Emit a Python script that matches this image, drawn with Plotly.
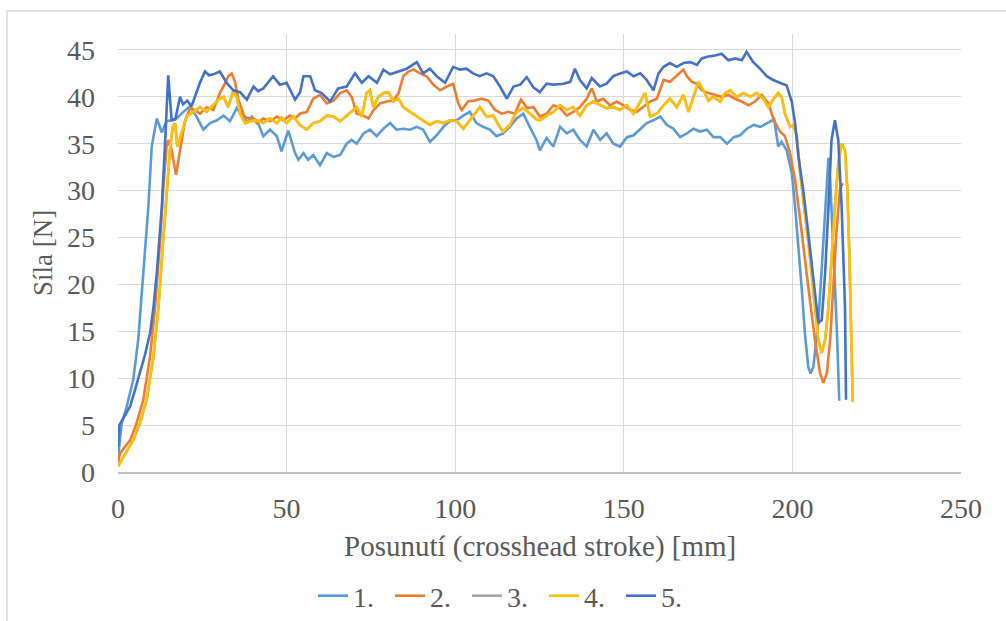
import plotly.graph_objects as go

# ---- data ----
series_names = ["1.", "2.", "3.", "4.", "5."]
series_colors = ["#5B9BD5", "#ED7D31", "#A5A5A5", "#FFC000", "#4472C4"]

s1 = [(0,1.5),(1.1,5.2),(2.6,7.0),(4.5,9.8),(6,14.1),(7.5,21.2),(9,28.3),(10,34.7),(11.5,37.7),(13,36.2),
      (14.4,37.4),(15.9,37.5),(17.4,37.7),(19.4,38.4),(21.4,39.0),(23.3,37.9),(25.3,36.5),(27.3,37.2),(29.3,37.5),
      (31.3,38.0),(33.2,37.4),(35.2,38.8),(37.2,37.9),(39.2,37.7),(41.2,37.5),(43.1,35.8),(45.1,36.5),(47.1,35.8),
      (48.5,34.2),(50.5,36.4),(52.5,34.0),(53.5,33.3),(55,34.0),(56.4,33.3),(57.9,33.8),(59.9,32.7),(61.9,34.0),
      (63.9,33.6),(65.9,33.8),(67.8,35.0),(69.3,35.4),(70.8,35.0),(72.8,36.1),(74.7,36.5),(76.7,35.8),(78.7,36.6),
      (80.7,37.2),(82.6,36.5),(84.6,36.6),(86.6,36.5),(88.6,36.8),(90.5,36.5),(92.5,35.2),(94.5,35.9),(96.5,36.8),
      (98.4,37.4),(100.4,37.5),(102.4,38.0),(104.3,38.4),(106.3,37.2),(108.3,36.8),(110.3,36.5),(112.2,35.8),
      (114.2,36.1),(116.2,36.8),(118.2,37.7),(120.2,38.2),(122.1,36.8),(124.1,35.4),(125.1,34.3),(127.1,35.6),
      (129.1,34.7),(131.1,36.8),(133.1,36.1),(135,36.5),(137,35.4),(139,34.7),(141,36.5),(143,35.4),(144.9,36.1),
      (146.9,35.0),(148.9,34.7),(150.9,35.7),(152.9,35.9),(154.9,36.6),(156.8,37.2),(158.8,37.5),(160.8,37.9),
      (162.8,37.0),(164.7,36.6),(166.7,35.7),(168.7,36.1),(170.7,36.6),(172.6,36.3),(174.6,36.5),(176.6,35.7),
      (178.6,35.7),(180.6,35.0),(182.6,35.7),(184.5,35.9),(186.5,36.6),(188.5,37.0),(190.5,36.8),(192.4,37.2),
      (194.6,37.6),(195.8,34.7),(196.8,35.2),(198.3,34.3),(199.8,31.9),(200.8,28.3),(201.8,24.0),(202.8,19.4),
      (203.7,14.8),(204.7,11.2),(205.4,10.5),(206.2,11.2),(207.7,15.9),(209.2,24.7),(210.2,30.1),(210.7,33.5),
      (211.2,31.2),(212.1,24.7),(213.1,15.9),(213.9,7.6)]

s2 = [(0,1.0),(0.6,2.0),(3.6,3.4),(5.5,5.2),(7.5,7.7),(9.5,12.3),(11,17.6),(12.5,24.7),(13.4,30.1),(14.4,34.7),
      (14.9,35.4),(15.9,34.3),(17.2,31.7),(18.4,34.3),(19.9,37.5),(21.4,38.8),(22.8,38.6),(24.3,38.2),(26.3,38.9),
      (28.3,38.6),(30.2,40.4),(31.7,41.4),(32.7,42.2),(33.7,42.5),(34.7,41.6),(35.7,39.7),(36.7,38.6),(38.2,37.2),
      (39.7,37.9),(41.2,37.2),(43.1,37.7),(45.1,37.4),(47.1,37.9),(49,37.5),(51,38.0),(52.5,37.7),(54,38.2),
      (56,38.4),(57.9,39.8),(59.9,40.2),(61.9,39.3),(63.9,39.6),(65.9,40.4),(67.8,40.7),(69.3,40.0),(70.8,38.2),
      (72.8,38.0),(74.3,37.7),(75.8,38.6),(77.7,39.3),(79.7,39.5),(81.7,39.6),(83.2,40.4),(84.6,42.2),(86.1,42.7),
      (87.6,42.9),(89.6,42.5),(91.5,42.2),(93.5,41.3),(95.5,40.7),(97.5,41.1),(99.4,41.4),(100.9,39.3),(101.9,38.6),
      (103.8,39.5),(105.8,39.6),(107.8,39.8),(109.8,39.6),(111.8,38.6),(113.8,38.2),(115.8,38.4),(117.7,38.2),
      (119.5,39.7),(121.4,38.8),(123.2,38.9),(125.1,37.9),(127.1,38.2),(129.1,39.1),(131.1,38.8),(133.1,38.0),
      (135,38.4),(137,38.9),(139,39.8),(140.5,40.9),(142,39.5),(143.9,39.8),(145.9,39.1),(147.9,39.5),(149.9,39.1),
      (151.9,38.6),(153.9,38.4),(155.8,38.9),(157.8,39.5),(159.8,39.8),(161.8,41.8),(163.7,41.6),(165.7,42.2),
      (167.7,42.9),(168.7,42.2),(170.2,41.6),(171.7,41.4),(173.1,40.7),(175.1,40.4),(177.1,40.2),(179,40.0),
      (181,40.2),(183,39.8),(185,39.5),(187,39.1),(188.9,39.5),(190.9,40.2),(192.9,39.3),(194.4,37.6),(196.3,36.3),
      (197.8,35.8),(199.3,34.0),(200.8,31.1),(202.3,26.9),(203.7,22.6),(205.2,18.3),(206.7,14.1),(208.2,10.5),
      (209.2,9.5),(210.2,10.5),(211.2,14.1),(212.1,19.4),(213.1,25.8),(214.1,30.1),(214.9,30.8)]

s4 = [(0,0.6),(0.5,0.9),(2.6,2.3),(4.5,3.4),(6.5,5.2),(8.5,7.7),(10.5,12.3),(12,17.6),(13.4,24.7),(14.4,30.1),
      (15.4,34.3),(16.2,36.8),(16.9,37.2),(17.6,34.7),(18.6,35.8),(20.4,37.9),(22.3,38.4),(24.3,38.9),(26.3,38.4),
      (28.3,39.1),(29.8,39.7),(31.3,40.0),(32.7,38.9),(34.2,40.7),(35.2,40.0),(36.2,38.2),(37.7,37.2),(39.2,37.4),
      (41.2,37.5),(43.1,37.2),(45.1,37.7),(47.1,37.2),(48.5,37.8),(50,37.2),(52,37.9),(54,37.0),(56,36.5),
      (57.9,37.2),(59.9,37.4),(61.9,38.0),(63.9,37.9),(65.9,37.4),(67.8,38.0),(69.3,38.4),(70.8,38.9),(72.3,37.9),
      (73.7,40.4),(74.7,40.7),(75.7,38.9),(77.2,40.0),(78.7,40.4),(80.2,40.5),(81.7,39.5),(83.2,39.8),(84.6,38.9),
      (86.6,38.4),(88.6,37.9),(90.5,37.5),(92.5,37.0),(94.5,37.4),(96.5,37.2),(98.4,37.5),(100.4,37.4),(102.4,36.6),
      (104.3,37.5),(106.3,38.4),(107.3,38.9),(109.3,37.9),(111.3,38.0),(113.2,36.8),(114.2,36.3),(116.2,37.0),
      (118.2,38.4),(120.2,38.8),(122.1,38.2),(124.1,37.6),(125.1,37.5),(127.1,38.0),(129.1,38.4),(131.1,39.1),
      (133.1,38.6),(135,38.9),(137,38.0),(139,39.1),(141,39.5),(143,39.1),(144.9,38.8),(146.9,38.9),(148.9,38.6),
      (150.9,39.1),(152.9,38.2),(154.9,39.5),(156.3,40.4),(157.8,37.9),(159.8,38.2),(161.8,39.1),(163.7,39.8),
      (165.7,38.9),(167.7,40.2),(169.2,38.4),(170.7,40.0),(172.1,41.6),(173.6,40.7),(175.1,39.6),(176.6,40.0),
      (178.6,39.5),(180,40.4),(181.5,40.7),(183.5,40.0),(185.5,40.4),(187.5,40.0),(189.4,40.4),(191.4,39.8),
      (192.9,38.9),(194.4,39.8),(195.8,40.4),(196.8,40.0),(197.8,38.2),(199.3,36.8),(200.3,37.0),(201.3,35.8),
      (202.3,31.9),(203.7,27.6),(205.2,23.0),(206.7,17.6),(207.7,14.1),(208.7,12.7),(209.7,14.1),(210.7,17.6),
      (211.6,23.0),(212.6,28.3),(213.6,32.9),(214.6,35.0),(215.6,34.3),(216.3,30.1),(216.9,23.0),(217.3,15.9),
      (217.9,7.5)]

# series 3 is hidden beneath series 4 in the reference
s3 = list(s4)

s5 = [(0,2.7),(0.4,5.0),(2,6.0),(3.6,7.0),(5,8.7),(6.5,10.5),(8,12.5),(9.5,14.8),(10.5,17.5),(11.5,21.2),
      (12.3,25.0),(13,28.3),(14,35.4),(14.9,42.3),(15.9,37.5),(17,37.6),(18.4,40.0),(19.3,39.2),(20.5,39.6),
      (21.8,39.0),(23,40.2),(24.3,41.5),(25.8,42.7),(27,42.3),(28.3,42.4),(30.2,42.7),(32.2,41.5),(34.2,40.7),
      (36.2,40.5),(38.2,39.7),(40.2,41.1),(41.5,40.6),(43.1,40.9),(44.5,41.5),(46,42.2),(48,41.3),(50,41.5),
      (52.5,39.7),(54,40.5),(55,42.2),(57,42.2),(58.4,40.7),(60.4,40.4),(62.9,39.5),(65.3,40.9),(67.8,41.1),
      (70.3,42.5),(72.3,41.5),(74.3,42.2),(76.8,41.5),(78.7,42.9),(80.7,42.4),(83.2,42.7),(85.6,43.0),(88.6,43.7),
      (90.5,42.5),(92.5,43.0),(94.5,42.2),(97,41.5),(99.4,43.2),(101.4,42.9),(103.3,43.0),(105.3,42.5),(107.3,42.2),
      (109.3,42.5),(111.3,42.2),(113.3,41.1),(115.3,39.8),(117.3,41.1),(119.3,41.3),(121.2,42.1),(123.2,41.0),
      (125.1,40.5),(127.1,41.4),(129.1,41.3),(132.1,41.4),(134.1,41.6),(135.5,43.0),(137,41.8),(139,40.9),
      (140.5,42.0),(142.9,41.1),(144.9,41.4),(146.9,42.2),(148.9,42.5),(150.9,42.7),(152.9,42.2),(154.9,42.5),
      (156.8,41.8),(158.8,40.7),(160.3,42.5),(161.8,43.2),(163.7,43.6),(165.7,43.2),(167.7,43.6),(169.7,43.7),
      (171.7,43.4),(173.1,44.1),(175.1,44.3),(177.1,44.4),(179,44.6),(181,43.9),(183,44.1),(185,43.9),(186.4,44.8),
      (188.4,43.7),(190.4,43.0),(192.4,42.2),(194.3,41.8),(196.3,41.5),(198.3,41.2),(199.8,39.5),(200.8,37.2),
      (201.8,33.6),(203.2,30.1),(204.7,25.5),(206.2,20.5),(207.7,15.9),(208.7,16.2),(209.7,21.2),(210.7,28.3),
      (211.6,35.4),(212.6,37.5),(213.6,35.4),(214.6,28.3),(215.6,17.6),(215.9,7.7)]

x_ticks = [0, 50, 100, 150, 200, 250]
y_ticks = [0, 5, 10, 15, 20, 25, 30, 35, 40, 45]
x_title = "Posunutí (crosshead stroke) [mm]"
y_title = "Síla [N]"

# ---- figure ----
TXT = "#595959"
GRID = "#D9D9D9"

fig = go.Figure()
for name, color, data in zip(series_names, series_colors, [s1, s2, s3, s4, s5]):
    fig.add_trace(go.Scatter(x=[p[0] for p in data], y=[p[1] for p in data], mode="lines",
                             name=name, line=dict(color=color, width=2.6)))

fig.update_layout(
    width=1006, height=621,
    margin=dict(l=118, r=45, t=34, b=149),
    paper_bgcolor="white", plot_bgcolor="white",
    font=dict(family="Liberation Serif", size=28, color=TXT),
    legend=dict(orientation="h", x=0.2313, xanchor="left", xref="paper",
                y=0.0403, yanchor="middle", yref="container",
                font=dict(family="Liberation Serif", size=28, color=TXT), entrywidth=32),
    xaxis=dict(range=[0, 250], tickvals=x_ticks, automargin=False,
               showgrid=True, gridcolor=GRID, gridwidth=1,
               zeroline=False, showline=True, linecolor="#BFBFBF", linewidth=2,
               ticklabelstandoff=10, tickfont=dict(family="Liberation Serif", size=28, color=TXT)),
    yaxis=dict(range=[0, 46.7], tickvals=y_ticks, automargin=False,
               showgrid=True, gridcolor=GRID, gridwidth=1, zeroline=False,
               ticklabelstandoff=22, tickfont=dict(family="Liberation Serif", size=28, color=TXT)),
    annotations=[
        dict(text=x_title, x=0.5, xref="paper", y=-0.169, yref="paper", xanchor="center",
             yanchor="middle", showarrow=False,
             font=dict(family="Liberation Serif", size=29, color=TXT)),
        dict(text=y_title, x=-0.089, xref="paper", y=0.5, yref="paper", xanchor="center",
             yanchor="middle", textangle=-90, showarrow=False,
             font=dict(family="Liberation Serif", size=27, color=TXT)),
    ],
    shapes=[dict(type="rect", xref="paper", yref="paper", x0=-0.1317, x1=1.06, y0=-0.36, y1=1.0525,
                 line=dict(color="#D9D9D9", width=1.5), fillcolor="rgba(0,0,0,0)", layer="below")],
)

fig.write_html("out.html")
